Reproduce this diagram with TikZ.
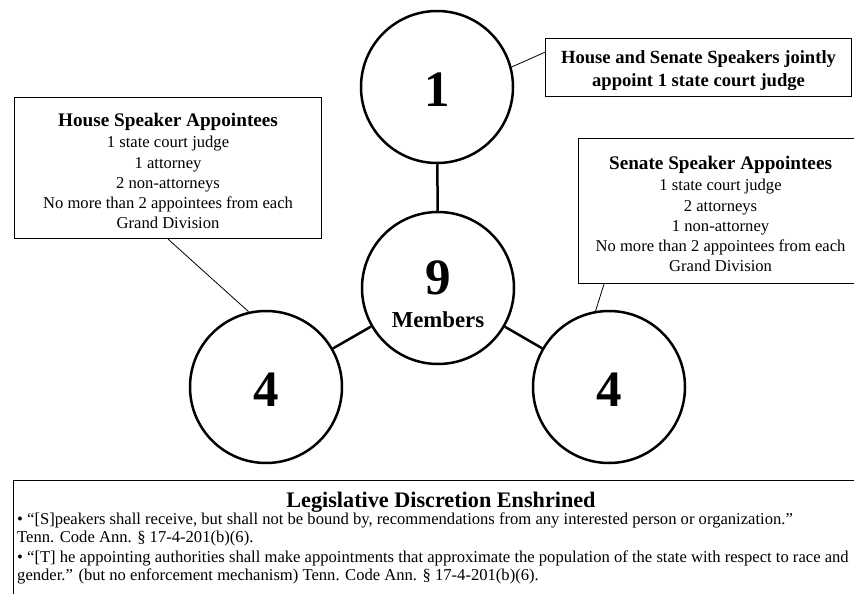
\documentclass[tikz,border=0pt]{standalone}
\usepackage{fontspec}
\setmainfont{Liberation Serif}
\usetikzlibrary{calc}
\tikzset{
  circ/.style={circle, draw, line width=2.5pt, minimum size=152pt, inner sep=0pt},
  bignum/.style={font=\fontsize{51}{51}\selectfont\bfseries, inner sep=0pt},
  infobox/.style={draw, line width=1.1pt, inner sep=0pt, align=center},
  link/.style={line width=2.5pt},
  leader/.style={line width=0.8pt},
  bodytxt/.style={font=\fontsize{16.6}{19}\selectfont, inner sep=0pt, anchor=west},
}
\newcommand{\boxhead}[1]{{\fontsize{19.2}{20}\selectfont\bfseries\rule{0pt}{19pt}#1}}
\begin{document}
\begin{tikzpicture}[x=1pt,y=-1pt]
\clip (0,0) rectangle (854,594);
\fill[white] (0,0) rectangle (854,594);

% circles
\node[circ] (c1) at (437,87) {};
\node[circ] (c9) at (438,288) {};
\node[circ] (c4l) at (266,387) {};
\node[circ] (c4r) at (609,387) {};

\node[bignum] (t1) at (437,90) {1};
\node[bignum] (t9) at (438,278) {9};
\node[font=\fontsize{22.8}{22.8}\selectfont\bfseries, inner sep=0pt] (tm) at (438,320) {Members};
\node[bignum] (t4l) at (266,390) {4};
\node[bignum] (t4r) at (609,390) {4};

% links
\draw[link] (c1) -- (c9);
\draw[link] (c9) -- (c4l);
\draw[link] (c9) -- (c4r);

% boxes
\node[infobox, minimum width=306pt, minimum height=58pt, anchor=north west,
      font=\fontsize{18.6}{23}\selectfont\bfseries] (jbox) at (545,38)
  {\rule{0pt}{18.6pt}House and Senate Speakers jointly\\appoint 1 state court judge};

\node[infobox, minimum width=307pt, minimum height=141pt, anchor=north west,
      font=\fontsize{16.6}{20.2}\selectfont] (hbox) at (14,97)
  {\boxhead{House Speaker Appointees}\\[1.5pt]1 state court judge\\1 attorney\\2 non-attorneys\\No more than 2 appointees from each\\Grand Division};

\node[infobox, minimum width=284pt, minimum height=145pt, anchor=north west,
      font=\fontsize{16.6}{20.2}\selectfont] (sbox) at (578,138)
  {\boxhead{Senate Speaker Appointees}\\[1.5pt]1 state court judge\\2 attorneys\\1 non-attorney\\No more than 2 appointees from each\\Grand Division};

% leaders
\coordinate (jl) at ($(jbox.north west)!0.24!(jbox.south west)$);
\draw[leader] (jl) -- (c1.15);
\draw[leader] (hbox.south) -- (c4l.103);
\coordinate (sl) at ($(sbox.south west)+(26,0)$);
\draw[leader] (sl) -- (c4r.100);

% bottom box
\node[draw, line width=1.1pt, minimum width=860pt, minimum height=130pt, anchor=north west, inner sep=0pt] (lbox) at (13,480) {};
\node[font=\fontsize{22.2}{22.2}\selectfont\bfseries, inner sep=0pt] (ltitle) at (441,502) {Legislative Discretion Enshrined};
\node[bodytxt] (l1) at (17,520) {• “[S]peakers shall receive, but shall not be bound by, recommendations from any interested person or organization.”};
\node[bodytxt] (l2) at (17,539) {Tenn. Code Ann. § 17-4-201(b)(6).};
\node[bodytxt] (l3) at (17,558) {• “[T] he appointing authorities shall make appointments that approximate the population of the state with respect to race and};
\node[bodytxt] (l4) at (17,576) {gender.” (but no enforcement mechanism) Tenn. Code Ann. § 17-4-201(b)(6).};
\end{tikzpicture}
\end{document}
